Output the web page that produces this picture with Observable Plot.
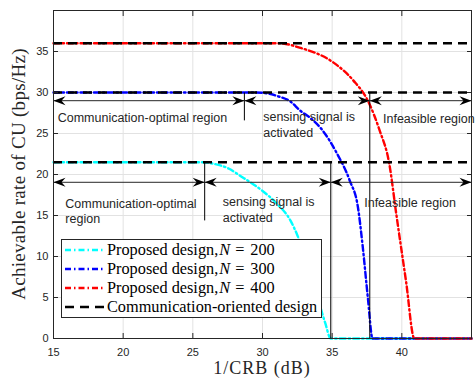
<!DOCTYPE html>
<html><head><meta charset="utf-8">
<script src="https://cdn.jsdelivr.net/npm/d3@7"></script>
<script src="https://cdn.jsdelivr.net/npm/@observablehq/plot@0.6"></script>
<style>
body{margin:0;background:#fff;}
#wrap{position:relative;width:476px;height:380px;overflow:hidden;}
#legend{position:absolute;left:61px;top:239px;width:259px;height:77px;border:1px solid #262626;background:#fff;font-family:"Liberation Serif",serif;font-size:16.3px;color:#000;}
.row{position:absolute;left:0;height:19px;display:flex;align-items:center;white-space:nowrap;}
.row svg{margin-left:3px;margin-right:2px;}
.row i{margin-left:1px;}
.row .eq{margin-left:5px;margin-right:6px;}
.xlabel{position:absolute;left:0;width:476px;text-align:center;top:358.8px;line-height:1;font-family:"Liberation Serif",serif;font-size:18px;letter-spacing:1px;color:#262626;padding-left:48px;box-sizing:border-box;}
.ylabel{position:absolute;left:18px;top:174px;line-height:1;font-family:"Liberation Serif",serif;font-size:19px;letter-spacing:0.3px;color:#262626;white-space:nowrap;transform:translate(-50%,-50%) rotate(-90deg);}
</style></head><body><div id="wrap"></div>
<script>
// ---- data ----
const xTicks = [15, 20, 25, 30, 35, 40];
const yTicks = [0, 5, 10, 15, 20, 25, 30, 35];

const n200X = [15, 25.7, 26.5, 27.6, 28.35, 30, 31, 32, 32.5, 33, 33.5, 34, 34.5, 34.9, 45];
const n200Y = [21.5, 21.5, 21.3, 20.7, 19.9, 18, 16.5, 14.4, 12.6, 10.3, 7.6, 4.7, 1.9, 0, 0];

const n300X = [15, 29.5, 30.5, 31, 32, 32.7, 33.5, 34.3, 35.3, 36.25, 36.85, 37.2, 37.56, 37.9, 45];
const n300Y = [30, 30, 29.85, 29.6, 28.9, 27.8, 26.8, 25.4, 22.7, 19.3, 16, 11.1, 5, 0, 0];

const n400X = [15, 31.2, 32.8, 35.05, 36.5, 37.56, 38.4, 39.1, 39.6, 40.3, 40.9, 45];
const n400Y = [36, 36, 35.4, 33.7, 31.5, 29.0, 25.4, 21.3, 15.2, 7.0, 0, 0];

const benchmarkY = [36, 30, 21.5];

const legendNames = ["Proposed design,", "Proposed design,", "Proposed design,", "Communication-oriented design"];
const legendN = [200, 300, 400, null];

// region annotations (data units)
const topBounds = [15, 28.7, 37.7, 45];
const topArrowY = 29;
const bottomBounds = [15, 25.85, 34.9, 45];
const bottomArrowY = 19.05;
const markerX = [28.7, 37.7, 25.85, 34.9];
const markerTop = [30, 30, 21.5, 21.5];
const markerBottom = [26.6, 0, 14.4, 0];
const noteText = ["Communication-optimal region", "sensing signal is", "activated", "Infeasible region",
                  "Communication-optimal", "region", "sensing signal is", "activated", "Infeasible region"];
const noteX = [15.3, 30.05, 30.05, 38.65, 15.85, 15.85, 27.15, 27.15, 37.3];
const noteY = [26.9, 27.0, 25.05, 26.8, 16.45, 14.55, 16.6, 14.75, 16.5];

// ---- build tables ----
const mk = (xs, ys) => xs.map((x, i) => ({x, y: ys[i]}));
const s200 = mk(n200X, n200Y), s300 = mk(n300X, n300Y), s400 = mk(n400X, n400Y);

function segs(bounds, y) {
  const out = [];
  for (let i = 0; i < bounds.length - 1; i++) out.push({x1: bounds[i], x2: bounds[i + 1], y});
  return out;
}
const arrowSegs = [...segs(topBounds, topArrowY), ...segs(bottomBounds, bottomArrowY)];
const heads = arrowSegs.flatMap(s => [{x: s.x1, y: s.y, r: 180}, {x: s.x2, y: s.y, r: 0}]);
const markers = markerX.map((x, i) => ({x, y1: markerTop[i], y2: markerBottom[i]}));
const notes = noteText.map((t, i) => ({t, x: noteX[i], y: noteY[i]}));

const arrowHead = {draw(ctx) { ctx.moveTo(0, 0); ctx.lineTo(-12, -4.5); ctx.lineTo(-8, 0); ctx.lineTo(-12, 4.5); ctx.closePath(); }};

const dashDot = "6,3,1.5,3";
const ink = "#262626";
const lw = 2.4;

const chart = Plot.plot({
  width: 476, height: 380,
  marginLeft: 53, marginRight: 5, marginTop: 10, marginBottom: 42,
  style: {fontFamily: "Liberation Sans, Arial, sans-serif", fontSize: "11px", color: ink, background: "#fff"},
  x: {domain: [15, 45]},
  y: {domain: [0, 40]},
  marks: [
    Plot.gridX(xTicks.slice(1), {stroke: "#e2e2e2", strokeOpacity: 1}),
    Plot.gridY(yTicks.slice(1), {stroke: "#e2e2e2", strokeOpacity: 1}),
    Plot.line(s200, {x: "x", y: "y", stroke: "#00ffff", strokeWidth: lw, strokeDasharray: dashDot, curve: "monotone-x"}),
    Plot.line(s300, {x: "x", y: "y", stroke: "#0000ff", strokeWidth: lw, strokeDasharray: dashDot, curve: "monotone-x"}),
    Plot.line(s400, {x: "x", y: "y", stroke: "#ff0000", strokeWidth: lw, strokeDasharray: dashDot, curve: "monotone-x"}),
    Plot.ruleY(benchmarkY, {stroke: "#000", strokeWidth: lw, strokeDasharray: "9,6"}),
    Plot.link(markers, {x1: "x", x2: "x", y1: "y1", y2: "y2", stroke: "#000", strokeWidth: 1}),
    Plot.link(arrowSegs, {x1: "x1", x2: "x2", y1: "y", y2: "y", stroke: ink, strokeWidth: 1}),
    Plot.dot(heads, {x: "x", y: "y", rotate: "r", symbol: arrowHead, fill: "#000", stroke: null}),
    Plot.text(notes, {x: "x", y: "y", text: "t", textAnchor: "start", fontSize: 12.5, fill: ink}),
    Plot.frame({stroke: ink, strokeWidth: 1}),
    Plot.axisX(xTicks, {anchor: "bottom", tickSize: -5, tickPadding: 14.5, label: null, stroke: ink, fill: ink}),
    Plot.axisX(xTicks, {anchor: "top", tickSize: -5, tickFormat: () => "", label: null, stroke: ink}),
    Plot.axisY(yTicks, {anchor: "left", tickSize: -5, tickPadding: 10, label: null, stroke: ink, fill: ink}),
    Plot.axisY(yTicks, {anchor: "right", tickSize: -5, tickFormat: () => "", label: null, stroke: ink})
  ]
});

const wrap = document.getElementById("wrap");
wrap.appendChild(chart);

const xl = document.createElement("div"); xl.className = "xlabel"; xl.textContent = "1/CRB (dB)"; wrap.appendChild(xl);
const yl = document.createElement("div"); yl.className = "ylabel"; yl.textContent = "Achievable rate of CU (bps/Hz)"; wrap.appendChild(yl);

const legendStyles = [
  {stroke: "#00ffff", dash: dashDot}, {stroke: "#0000ff", dash: dashDot},
  {stroke: "#ff0000", dash: dashDot}, {stroke: "#000", dash: "9,6"}
];
const lg = document.createElement("div"); lg.id = "legend";
legendNames.forEach((name, i) => {
  const r = document.createElement("div"); r.className = "row";
  r.style.top = (0.5 + i * 18.9) + "px";
  const tail = legendN[i] == null ? "" : `<i>N</i><span class="eq">=</span>${legendN[i]}`;
  r.innerHTML = `<svg width="40" height="6"><line x1="0" x2="40" y1="3" y2="3" stroke="${legendStyles[i].stroke}" stroke-width="${lw}" stroke-dasharray="${legendStyles[i].dash}"/></svg><span>${name}</span>${tail}`;
  lg.appendChild(r);
});
wrap.appendChild(lg);
</script></body></html>
